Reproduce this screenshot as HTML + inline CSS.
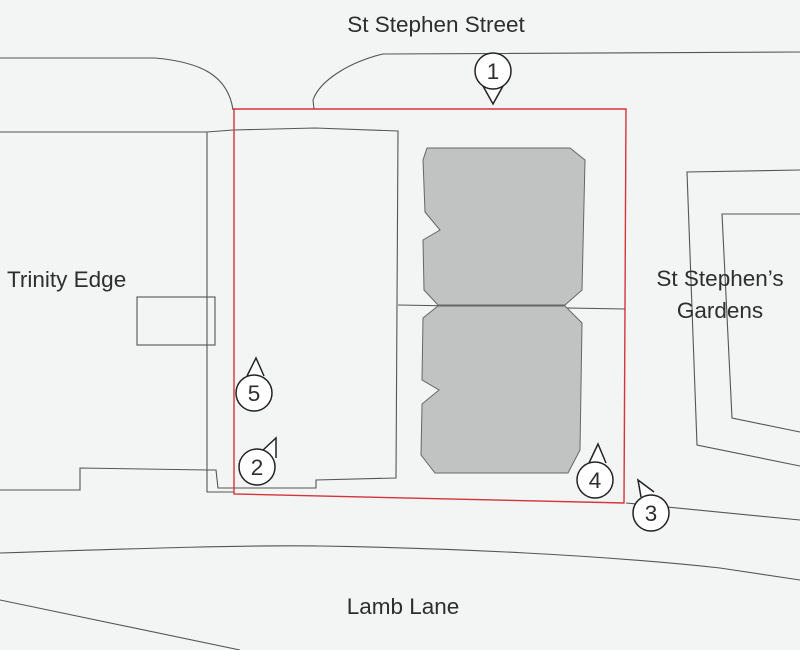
<!DOCTYPE html>
<html><head><style>
html,body{margin:0;padding:0;background:#f3f4f4;}
svg{display:block;}
text{font-family:"Liberation Sans",sans-serif;fill:#2e2e2e;font-size:22.5px;}
</style></head><body>
<svg width="800" height="650" viewBox="0 0 800 650">
<rect width="800" height="650" fill="#f3f4f4"/>
<g fill="none" stroke="#555" stroke-width="1.1">
<path d="M0,58 L155,58 C200,62 228,75 233,110"/>
<path d="M314,109 L313,100 C320,80 350,62 383,54 L800,52"/>
<path d="M0,132 L207,132 L233,130 L315,128 L398,131 L396,478 L316,480 L316,488 L218,488 L216,470 L207,470"/>
<path d="M207,132 L207,492 L234,492"/>
<path d="M0,490 L80,490 L80,468 L207,470"/>
<rect x="137" y="297" width="78" height="48"/>
<path d="M398,305 L625,309"/>
<path d="M800,170 L687,172 L697,445 L800,466"/>
<path d="M800,214 L722,214 L732,418 L800,432"/>
<path d="M626,503 L800,520"/>
<path d="M0,553 C150,548 250,545 320,546 C450,548 600,555 720,568 L800,580"/>
<path d="M0,600 L240,650"/>
</g>
<g fill="#c1c2c2" stroke="#666" stroke-width="1">
<path d="M427,148 L570,148 L585,160 L582,290 L565,305 L438,305 L424,290 L423,240 L440,230 L425,212 L423,160 Z"/>
<path d="M438,306 L565,306 L582,323 L580,450 L568,473 L435,473 L421,455 L422,404 L439,390 L422,380 L423,318 Z"/>
</g>
<path d="M234,109 L626,109 L624,503 L234,494 Z" fill="none" stroke="#d6333a" stroke-width="1.4"/>
<g fill="#fff" stroke="#222" stroke-width="1.5">
<path d="M483,86 L493,104 L503,86"/>
<circle cx="493" cy="71" r="18"/>
<path d="M247,376 L256,358 L264,376"/>
<circle cx="254" cy="393" r="18"/>
<path d="M262,451 L276,438 L276,458"/>
<circle cx="257" cy="467" r="18"/>
<path d="M589,463 L598,444 L606,463"/>
<circle cx="595" cy="480" r="18"/>
<path d="M641,497 L638,480 L654,492"/>
<circle cx="651" cy="513" r="18"/>
</g>
<g style="font-size:21px" text-anchor="middle">
<text x="493" y="79">1</text>
<text x="254" y="401">5</text>
<text x="257" y="475">2</text>
<text x="595" y="488">4</text>
<text x="651" y="521">3</text>
</g>
<text x="436" y="32" text-anchor="middle">St Stephen Street</text>
<text x="7" y="287">Trinity Edge</text>
<text x="720" y="286" text-anchor="middle">St Stephen’s</text>
<text x="720" y="318" text-anchor="middle">Gardens</text>
<text x="403" y="614" text-anchor="middle">Lamb Lane</text>
</svg>
</body></html>
